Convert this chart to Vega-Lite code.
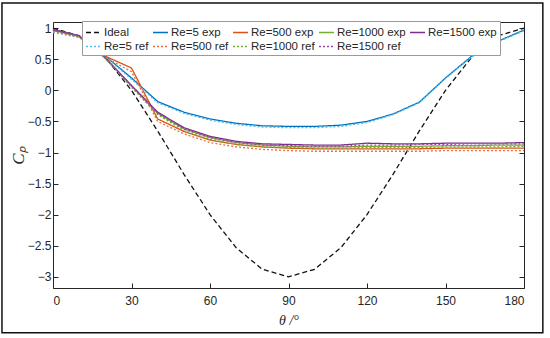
{
  "$schema": "https://vega.github.io/schema/vega-lite/v6.json",
  "width": 471,
  "height": 266,
  "autosize": {"type": "none"},
  "padding": {"left": 53, "top": 22, "right": 26, "bottom": 50},
  "background": "white",
  "config": {
    "view": {"stroke": "#262626", "strokeWidth": 1},
    "axis": {
      "labelFont": "Liberation Sans",
      "labelFontSize": 12,
      "labelColor": "#262626",
      "domain": false,
      "tickColor": "#262626",
      "tickSize": -5,
      "gridColor": "#e6e6e6",
      "gridWidth": 1,
      "titleFont": "Liberation Serif",
      "titleFontStyle": "italic",
      "titleFontWeight": "normal",
      "titleColor": "#262626"
    },
    "legend": {
      "orient": "none",
      "legendX": 29,
      "legendY": -1,
      "columns": 5,
      "direction": "horizontal",
      "padding": 3,
      "rowPadding": 0,
      "columnPadding": 1,
      "strokeColor": "#9a9a9a",
      "fillColor": "white",
      "labelFont": "Liberation Sans",
      "labelFontSize": 11.5,
      "labelColor": "#262626",
      "symbolType": "stroke",
      "symbolSize": 225,
      "symbolStrokeWidth": 1.3,
      "labelOffset": 2
    }
  },
  "data": {
    "values": [
      {"theta": 0, "Ideal": 1, "Re=5 exp": 0.97, "Re=500 exp": 0.97, "Re=1000 exp": 0.98, "Re=1500 exp": 0.98, "Re=5 ref": 0.93, "Re=500 ref": 0.95, "Re=1000 ref": 0.96, "Re=1500 ref": 0.97},
      {"theta": 10, "Ideal": 0.879, "Re=5 exp": 0.87, "Re=500 exp": 0.87, "Re=1000 exp": 0.87, "Re=1500 exp": 0.88, "Re=5 ref": 0.85, "Re=500 ref": 0.86, "Re=1000 ref": 0.86, "Re=1500 ref": 0.87},
      {"theta": 20, "Ideal": 0.532, "Re=5 exp": 0.55, "Re=500 exp": 0.55, "Re=1000 exp": 0.52, "Re=1500 exp": 0.52, "Re=5 ref": 0.54, "Re=500 ref": 0.53, "Re=1000 ref": 0.52, "Re=1500 ref": 0.52},
      {"theta": 30, "Ideal": 0, "Re=5 exp": 0.2, "Re=500 exp": 0.36, "Re=1000 exp": 0.07, "Re=1500 exp": 0.08, "Re=5 ref": 0.18, "Re=500 ref": 0.3, "Re=1000 ref": 0.05, "Re=1500 ref": 0.07},
      {"theta": 40, "Ideal": -0.653, "Re=5 exp": -0.18, "Re=500 exp": -0.46, "Re=1000 exp": -0.37, "Re=1500 exp": -0.35, "Re=5 ref": -0.2, "Re=500 ref": -0.5, "Re=1000 ref": -0.39, "Re=1500 ref": -0.37},
      {"theta": 50, "Ideal": -1.347, "Re=5 exp": -0.35, "Re=500 exp": -0.66, "Re=1000 exp": -0.62, "Re=1500 exp": -0.6, "Re=5 ref": -0.37, "Re=500 ref": -0.7, "Re=1000 ref": -0.65, "Re=1500 ref": -0.62},
      {"theta": 60, "Ideal": -2, "Re=5 exp": -0.46, "Re=500 exp": -0.8, "Re=1000 exp": -0.76, "Re=1500 exp": -0.74, "Re=5 ref": -0.48, "Re=500 ref": -0.84, "Re=1000 ref": -0.79, "Re=1500 ref": -0.76},
      {"theta": 70, "Ideal": -2.532, "Re=5 exp": -0.53, "Re=500 exp": -0.87, "Re=1000 exp": -0.84, "Re=1500 exp": -0.82, "Re=5 ref": -0.55, "Re=500 ref": -0.91, "Re=1000 ref": -0.87, "Re=1500 ref": -0.84},
      {"theta": 80, "Ideal": -2.879, "Re=5 exp": -0.57, "Re=500 exp": -0.91, "Re=1000 exp": -0.88, "Re=1500 exp": -0.86, "Re=5 ref": -0.59, "Re=500 ref": -0.95, "Re=1000 ref": -0.91, "Re=1500 ref": -0.88},
      {"theta": 90, "Ideal": -3, "Re=5 exp": -0.58, "Re=500 exp": -0.93, "Re=1000 exp": -0.9, "Re=1500 exp": -0.87, "Re=5 ref": -0.6, "Re=500 ref": -0.97, "Re=1000 ref": -0.92, "Re=1500 ref": -0.89},
      {"theta": 100, "Ideal": -2.879, "Re=5 exp": -0.58, "Re=500 exp": -0.94, "Re=1000 exp": -0.91, "Re=1500 exp": -0.88, "Re=5 ref": -0.6, "Re=500 ref": -0.98, "Re=1000 ref": -0.93, "Re=1500 ref": -0.9},
      {"theta": 110, "Ideal": -2.532, "Re=5 exp": -0.56, "Re=500 exp": -0.94, "Re=1000 exp": -0.91, "Re=1500 exp": -0.88, "Re=5 ref": -0.58, "Re=500 ref": -0.98, "Re=1000 ref": -0.93, "Re=1500 ref": -0.9},
      {"theta": 120, "Ideal": -2, "Re=5 exp": -0.5, "Re=500 exp": -0.94, "Re=1000 exp": -0.9, "Re=1500 exp": -0.85, "Re=5 ref": -0.52, "Re=500 ref": -0.98, "Re=1000 ref": -0.92, "Re=1500 ref": -0.88},
      {"theta": 130, "Ideal": -1.347, "Re=5 exp": -0.38, "Re=500 exp": -0.94, "Re=1000 exp": -0.9, "Re=1500 exp": -0.86, "Re=5 ref": -0.39, "Re=500 ref": -0.98, "Re=1000 ref": -0.92, "Re=1500 ref": -0.88},
      {"theta": 140, "Ideal": -0.653, "Re=5 exp": -0.19, "Re=500 exp": -0.94, "Re=1000 exp": -0.9, "Re=1500 exp": -0.86, "Re=5 ref": -0.2, "Re=500 ref": -0.98, "Re=1000 ref": -0.92, "Re=1500 ref": -0.87},
      {"theta": 150, "Ideal": 0, "Re=5 exp": 0.2, "Re=500 exp": -0.93, "Re=1000 exp": -0.89, "Re=1500 exp": -0.85, "Re=5 ref": 0.19, "Re=500 ref": -0.97, "Re=1000 ref": -0.91, "Re=1500 ref": -0.87},
      {"theta": 160, "Ideal": 0.532, "Re=5 exp": 0.55, "Re=500 exp": -0.93, "Re=1000 exp": -0.89, "Re=1500 exp": -0.85, "Re=5 ref": 0.54, "Re=500 ref": -0.97, "Re=1000 ref": -0.91, "Re=1500 ref": -0.86},
      {"theta": 170, "Ideal": 0.879, "Re=5 exp": 0.79, "Re=500 exp": -0.93, "Re=1000 exp": -0.88, "Re=1500 exp": -0.85, "Re=5 ref": 0.78, "Re=500 ref": -0.97, "Re=1000 ref": -0.91, "Re=1500 ref": -0.86},
      {"theta": 180, "Ideal": 1, "Re=5 exp": 0.97, "Re=500 exp": -0.93, "Re=1000 exp": -0.88, "Re=1500 exp": -0.84, "Re=5 ref": 0.96, "Re=500 ref": -0.97, "Re=1000 ref": -0.9, "Re=1500 ref": -0.86}
    ]
  },
  "resolve": {"axis": {"x": "independent", "y": "independent"}},
  "layer": [
    {
      "data": {"values": [{"frame": 1}]},
      "mark": {"type": "rect", "fill": "white", "fillOpacity": 0, "stroke": "#111111", "strokeWidth": 1.5, "clip": false},
      "encoding": {
        "x": {"datum": -19.5, "type": "quantitative", "scale": {"domain": [0, 180], "nice": false, "zero": false}, "axis": {"orient": "top", "labels": false, "grid": false, "title": null, "values": [0, 30, 60, 90, 120, 150, 180]}},
        "x2": {"datum": 187.2},
        "y": {"datum": 1.405, "type": "quantitative", "scale": {"domain": [-3.18, 1.1], "nice": false, "zero": false}, "axis": {"orient": "right", "labels": false, "grid": false, "title": null, "values": [-3, -2.5, -2, -1.5, -1, -0.5, 0, 0.5, 1]}},
        "y2": {"datum": -3.9}
      }
    },
    {
      "transform": [{"fold": ["Ideal", "Re=5 exp", "Re=500 exp", "Re=1000 exp", "Re=1500 exp", "Re=5 ref", "Re=500 ref", "Re=1000 ref", "Re=1500 ref"], "as": ["series", "cp"]}],
      "mark": {"type": "line", "strokeWidth": 1.3},
      "encoding": {
        "x": {"field": "theta", "type": "quantitative", "scale": {"domain": [0, 180], "nice": false, "zero": false}, "axis": {"orient": "bottom", "title": "θ /°", "titleFontSize": 14, "titlePadding": 7, "labelPadding": 12, "values": [0, 30, 60, 90, 120, 150, 180]}},
        "y": {"field": "cp", "type": "quantitative", "scale": {"domain": [-3.18, 1.1], "nice": false, "zero": false}, "axis": {"orient": "left", "title": "Cₚ", "titleFontSize": 17, "titlePadding": 0, "labelPadding": 7, "format": "~g", "values": [-3, -2.5, -2, -1.5, -1, -0.5, 0, 0.5, 1]}},
        "color": {
          "field": "series", "type": "nominal",
          "scale": {
            "domain": ["Ideal", "Re=5 exp", "Re=500 exp", "Re=1000 exp", "Re=1500 exp", "Re=5 ref", "Re=500 ref", "Re=1000 ref", "Re=1500 ref"],
            "range": ["#111111", "#0072BD", "#D95319", "#77AC30", "#7E2F8E", "#4DBEEE", "#E8703A", "#77AC30", "#9B45B5"]
          },
          "legend": {"title": null}
        },
        "strokeDash": {
          "field": "series", "type": "nominal",
          "scale": {
            "domain": ["Ideal", "Re=5 exp", "Re=500 exp", "Re=1000 exp", "Re=1500 exp", "Re=5 ref", "Re=500 ref", "Re=1000 ref", "Re=1500 ref"],
            "range": [[5, 3], [1, 0], [1, 0], [1, 0], [1, 0], [2, 2], [2, 2], [2, 2], [2, 2]]
          },
          "legend": {"title": null}
        },
        "order": {"field": "theta", "type": "quantitative"}
      }
    }
  ]
}
